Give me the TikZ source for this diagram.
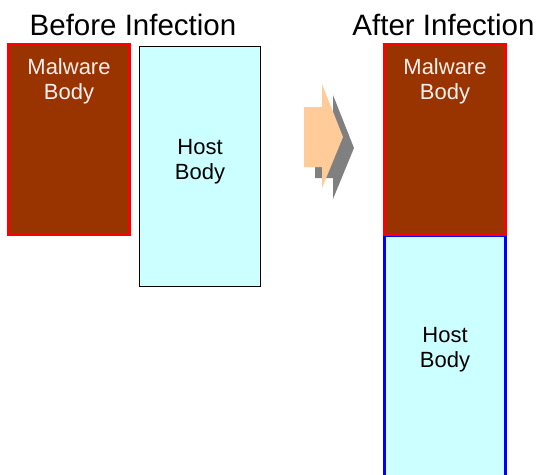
\documentclass[tikz,border=0pt]{standalone}
\usepackage{fontspec}
\setmainfont{Liberation Sans}
\usepackage{xcolor}
\usetikzlibrary{positioning}
\definecolor{cMal}{RGB}{153,51,0}
\definecolor{cMalLine}{RGB}{255,0,0}
\definecolor{cMalText}{RGB}{255,240,240}
\definecolor{cHost}{RGB}{204,255,255}
\definecolor{cHostLine}{RGB}{0,0,255}
\definecolor{cArrow}{RGB}{255,204,153}
\definecolor{cShadow}{RGB}{128,128,128}

\begin{document}
\begin{tikzpicture}[x=1pt,y=-1pt,
    box/.style={draw,inner sep=0pt,minimum width=121pt},
    malbox/.style={box,fill=cMal,draw=cMalLine,line width=3pt,minimum height=190pt},
    hostbox/.style={box,fill=cHost,minimum height=240pt},
    title/.style={font=\fontsize{29.5}{34}\selectfont,anchor=north,inner sep=0pt},
    lbl/.style={font=\fontsize{22}{25}\selectfont,align=center,anchor=north,inner sep=0pt}]
  \useasboundingbox (0,0) rectangle (543,474);
  % before
  \node[title] (titleBefore) at (133,14) {Before Infection};
  \node[malbox] (malA) at (69,139.5) {};
  \node[hostbox,line width=1pt] (hostA) at (200,166.5) {};
  \node[lbl,text=cMalText] (malAText) at (69,58) {Malware\\Body};
  \node[lbl] (hostAText) at (200,139) {Host\\Body};
  % arrow with shadow
  \foreach \d/\col in {11/cShadow,0/cArrow}
    \fill[\col,shift={(\d,\d)}] (304,107) -- (322,107) -- (322,84) -- (343,137)
      -- (322,188) -- (322,167) -- (304,167) -- cycle;
  % after
  \node[title] (titleAfter) at (443.5,14) {After Infection};
  \node[hostbox,draw=cHostLine,line width=3pt,minimum height=256pt] (hostB) at (445,363) {};
  \node[malbox] (malB) at (445,139.5) {};
  \node[lbl,text=cMalText] (malBText) at (445,58) {Malware\\Body};
  \node[lbl] (hostBText) at (445,327) {Host\\Body};
\end{tikzpicture}
\end{document}
